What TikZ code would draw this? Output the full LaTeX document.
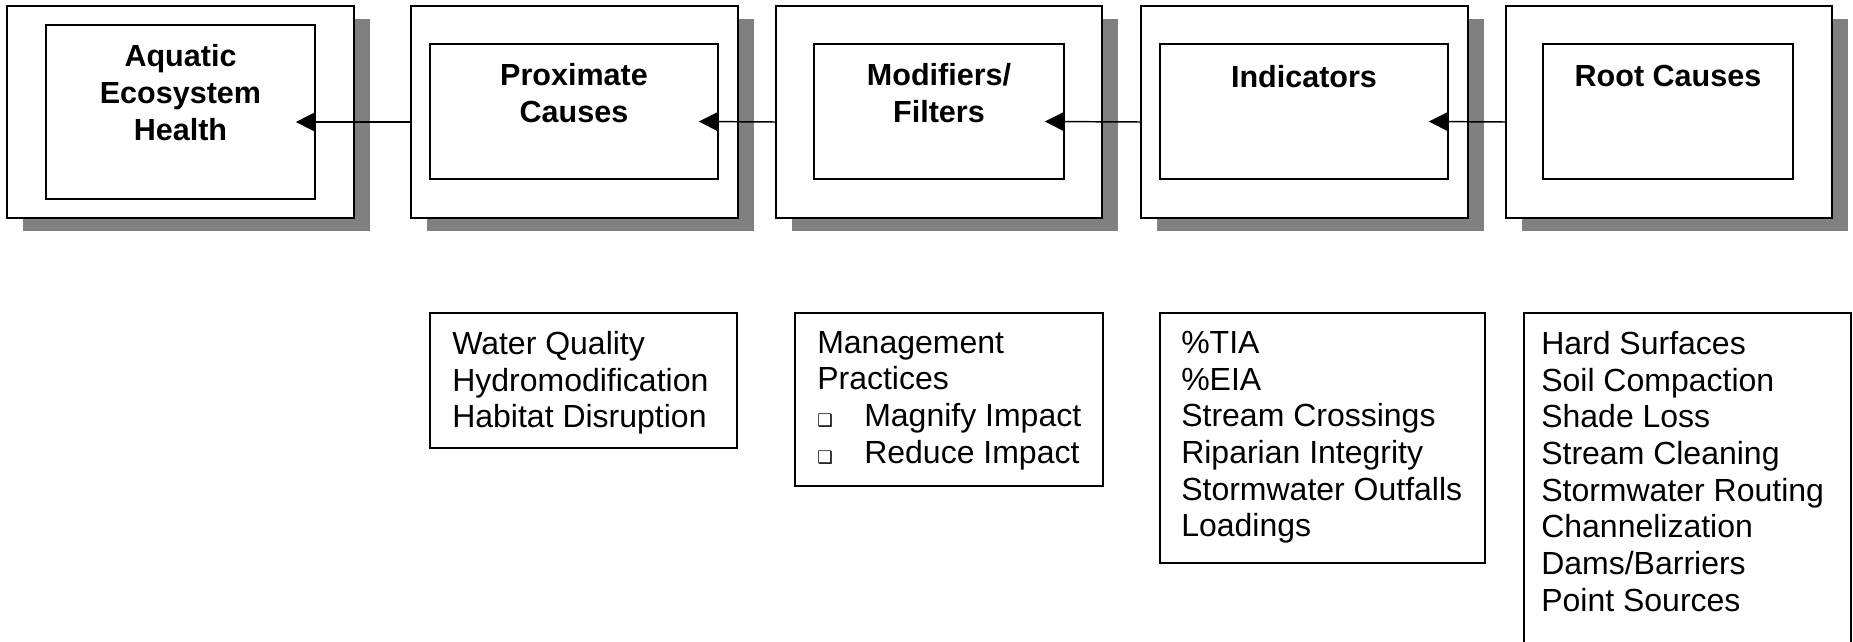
\documentclass[tikz,border=0pt]{standalone}
\usepackage{fontspec}
\setmainfont{Liberation Sans}
\newfontfamily\symfont{DejaVu Sans}
\usetikzlibrary{arrows.meta,fit,shadows}
\definecolor{shadowgray}{HTML}{808080}
\newcommand{\boxbullet}{\makebox[35.25pt][l]{\symfont\fontsize{13pt}{13pt}\selectfont ❑}}

\begin{document}
\begin{tikzpicture}[x=0.75pt,y=-0.75pt,
  outerbox/.style={draw=black, line width=1.5pt, fill=white, inner sep=0pt,
    drop shadow={shadow xshift=12pt, shadow yshift=-9.75pt, fill=shadowgray, opacity=1}},
  innerbox/.style={draw=black, line width=1.3pt, inner sep=0pt},
  title/.style={font=\bfseries\fontsize{22.9pt}{27.75pt}\selectfont, align=center,
    anchor=north, inner sep=0pt},
  listtext/.style={font=\fontsize{24pt}{27.5pt}\selectfont, align=left,
    anchor=north west, inner sep=0pt},
  listbox/.style={draw=black, line width=1.1pt, inner sep=0pt},
  link/.style={line width=1.1pt, -{Triangle[length=15pt,width=15pt]}}
]
\useasboundingbox (0,0) rectangle (1853,642);
\clip (0,0) rectangle (1853,642);

% stages of the causal chain
\node[outerbox, fit={(7,6) (354,218)}] (o1) {};
\node[innerbox, fit={(46,25) (315,199)}] (i1) {};
\node[outerbox, fit={(411,6) (738,218)}] (o2) {};
\node[innerbox, fit={(430,44) (718,179)}] (i2) {};
\node[outerbox, fit={(776,6) (1102,218)}] (o3) {};
\node[innerbox, fit={(814,44) (1064,179)}] (i3) {};
\node[outerbox, fit={(1141,6) (1468,218)}] (o4) {};
\node[innerbox, fit={(1160,44) (1448,179)}] (i4) {};
\node[outerbox, fit={(1506,6) (1832,218)}] (o5) {};
\node[innerbox, fit={(1543,44) (1793,179)}] (i5) {};

\node[title] (t1) at (180.5,44) {Aquatic\\Ecosystem\\Health};
\node[title] (t2) at (574,63) {Proximate\\Causes};
\node[title] (t3) at (939,63) {Modifiers/\\Filters};
\node[title] (t4) at (1304,65) {Indicators};
\node[title] (t5) at (1668,65) {Root Causes};

% arrows from each stage to the one on its left
\foreach \a/\b in {o2/i1, o3/i2, o4/i3, o5/i4}
  \draw[link] ([yshift=-7.5pt]\a.west) -- ([xshift=-15pt,yshift=-7.5pt]\b.east);

% detail lists
\node[listbox, fit={(430,313) (737,448)}] (l2) {};
\node[listbox, fit={(795,313) (1103,486)}] (l3) {};
\node[listbox, fit={(1160,313) (1485,563)}] (l4) {};
\node[listbox, fit={(1524,313) (1851,700)}] (l5) {};

\node[listtext] (d2) at (452,331) {Water Quality\\Hydromodification\\Habitat Disruption};
\node[listtext] (d3) at (817,331) {Management\\Practices\\\boxbullet Magnify Impact\\\boxbullet Reduce Impact};
\node[listtext] (d4) at (1181,331) {\%TIA\\\%EIA\\Stream Crossings\\Riparian Integrity\\Stormwater Outfalls\\Loadings};
\node[listtext] (d5) at (1541,331) {Hard Surfaces\\Soil Compaction\\Shade Loss\\Stream Cleaning\\Stormwater Routing\\Channelization\\Dams/Barriers\\Point Sources};
\end{tikzpicture}
\end{document}
